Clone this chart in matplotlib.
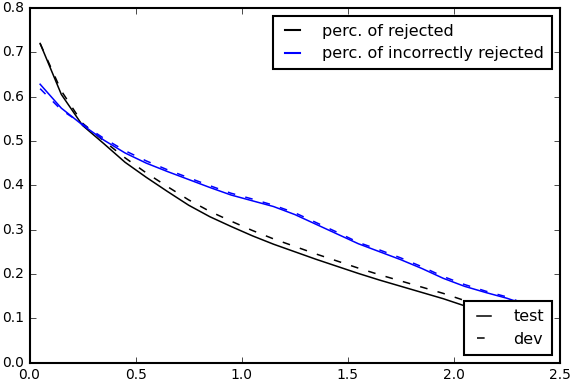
import matplotlib
matplotlib.use('Agg')
import matplotlib.pyplot as plt
from matplotlib.lines import Line2D

x = [0.05, 0.15, 0.25, 0.35, 0.45, 0.55, 0.65, 0.75, 0.85, 0.95, 1.05, 1.15,
     1.25, 1.35, 1.45, 1.55, 1.65, 1.75, 1.85, 1.95, 2.05, 2.15, 2.25, 2.3]

rejTest = [0.72, 0.605, 0.535, 0.494, 0.452, 0.418, 0.386, 0.355, 0.329, 0.307,
           0.286, 0.267, 0.25, 0.233, 0.217, 0.201, 0.186, 0.172, 0.158, 0.144,
           0.128, 0.117, 0.106, 0.1]
rejDev = [0.72, 0.613, 0.54, 0.5, 0.462, 0.428, 0.397, 0.367, 0.341, 0.319,
          0.298, 0.279, 0.262, 0.245, 0.229, 0.213, 0.198, 0.184, 0.17, 0.156,
          0.14, 0.128, 0.116, 0.11]
incTest = [0.628, 0.574, 0.536, 0.502, 0.473, 0.45, 0.431, 0.413, 0.395, 0.378,
           0.365, 0.352, 0.334, 0.312, 0.29, 0.268, 0.25, 0.232, 0.212, 0.19,
           0.172, 0.158, 0.145, 0.137]
incDev = [0.618, 0.57, 0.538, 0.506, 0.478, 0.455, 0.435, 0.417, 0.399, 0.382,
          0.369, 0.355, 0.338, 0.316, 0.294, 0.271, 0.254, 0.236, 0.216, 0.194,
          0.176, 0.161, 0.148, 0.139]

plt.style.use('classic')
plt.rcParams['figure.facecolor'] = 'white'
plt.rcParams['savefig.facecolor'] = 'white'
plt.rcParams['xtick.labelsize'] = 10
plt.rcParams['ytick.labelsize'] = 10
plt.rcParams['axes.linewidth'] = 1.5

fig = plt.figure(figsize=(5.72, 3.82), dpi=100)
ax = fig.add_axes([0.0516, 0.051, 0.9274, 0.928])

dash = (5.5, 7.5)
ax.plot(x, rejTest, color='black', linestyle='-', lw=1.1)
ax.plot(x, rejDev, color='black', linestyle='--', dashes=dash, lw=1.1)
ax.plot(x, incTest, color='blue', linestyle='-', lw=1.1)
ax.plot(x, incDev, color='blue', linestyle='--', dashes=dash, lw=1.1)

ax.set_xlim(0, 2.5)
ax.set_ylim(0, 0.8)

leg1 = ax.legend([Line2D([], [], color='black', lw=1.5),
                  Line2D([], [], color='blue', lw=1.5)],
                 ['perc. of rejected', 'perc. of incorrectly rejected'],
                 loc='upper right', fontsize=11.5, handlelength=1.5,
                 handletextpad=1.1, borderpad=0.5, labelspacing=0.45)
leg1.get_frame().set_linewidth(1.5)
ax.add_artist(leg1)
leg2 = ax.legend([Line2D([], [], color='black', linestyle='-', lw=1.1),
                  Line2D([], [], color='black', linestyle='--', dashes=dash, lw=1.1)],
                 ['test', 'dev'], loc='lower right', fontsize=11.5, handlelength=1.5,
                 handletextpad=1.1, borderpad=0.5, labelspacing=0.45)
leg2.get_frame().set_linewidth(1.5)

fig.savefig('out.png', dpi=100)
